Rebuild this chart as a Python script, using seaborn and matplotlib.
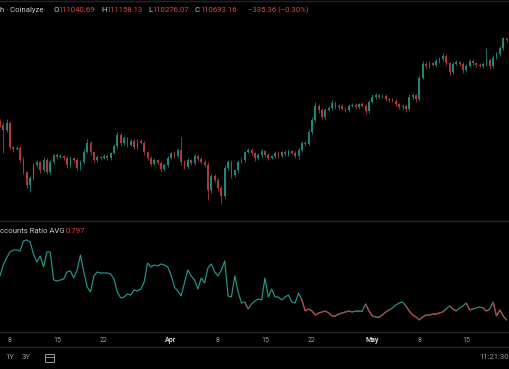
import matplotlib
matplotlib.use("Agg")
import matplotlib.pyplot as plt
import matplotlib.dates as mdates
from matplotlib.collections import LineCollection
from matplotlib.lines import Line2D
from matplotlib.patches import Rectangle
from matplotlib.transforms import blended_transform_factory
import numpy as np
import pandas as pd
import seaborn as sns

# ---- data (12h candles, price in thousand USD) ----
START = "2025-03-06 12:00"
OPEN0 = 92.5
close_k = [
    91.7, 90.6, 92.2, 86.8, 86.4, 86.6, 83.9, 81.2, 78.3, 79.9,
    82.8, 83.5, 81.7, 83.9, 81.2, 83.5, 85.0, 84.6, 84.8, 84.4,
    82.8, 84.4, 83.9, 82.1, 83.5, 85.7, 87.7, 85.7, 83.9, 84.6,
    84.4, 84.8, 84.4, 85.5, 87.0, 89.5, 87.7, 88.8, 87.3, 88.2,
    86.8, 88.2, 87.7, 85.7, 84.4, 83.0, 83.9, 83.3, 81.9, 82.8,
    84.4, 85.5, 84.8, 86.2, 83.5, 82.4, 83.9, 83.3, 84.8, 84.1,
    83.5, 82.8, 77.2, 80.4, 79.5, 77.7, 75.9, 82.1, 83.5, 80.6,
    81.7, 83.5, 83.9, 85.7, 86.2, 85.5, 84.4, 85.0, 85.9, 85.0,
    84.4, 84.8, 85.5, 84.8, 85.7, 85.3, 85.9, 85.5, 84.8, 86.2,
    87.7, 87.5, 90.2, 92.8, 96.0, 95.1, 93.5, 95.1, 95.5, 96.6,
    95.7, 96.0, 95.3, 95.1, 96.0, 96.2, 95.7, 96.4, 96.0, 94.8,
    96.9, 98.0, 98.4, 98.0, 98.2, 97.5, 97.3, 97.1, 96.4, 95.7,
    96.0, 95.3, 98.0, 98.4, 97.5, 102.2, 105.3, 104.9, 105.5, 105.1,
    106.0, 106.4, 107.1, 105.5, 103.5, 105.3, 105.8, 105.3, 104.0, 104.9,
    106.0, 105.5, 105.1, 104.9, 105.3, 106.2, 104.9, 106.7, 107.6, 108.9,
    111.04, 110.69,
]
wick_up = [
    0.5, 0.6, 0.9, 0.4, 0.3, 0.5, 0.4, 0.6, 0.3, 0.4,
    0.5, 0.4, 0.3, 0.6, 0.4, 0.5, 0.3, 0.4, 0.5, 0.3,
    0.4, 0.5, 0.3, 0.4, 0.5, 0.6, 0.8, 0.4, 0.3, 0.5,
    0.3, 0.4, 0.5, 0.3, 0.4, 0.6, 0.4, 0.5, 0.3, 0.4,
    0.5, 0.4, 0.3, 0.4, 0.3, 0.5, 0.4, 0.3, 0.4, 0.5,
    0.4, 0.3, 0.5, 0.4, 2.8, 0.4, 0.5, 0.3, 0.4, 0.3,
    0.4, 0.5, 0.6, 0.4, 0.5, 0.3, 0.4, 0.6, 0.5, 0.4,
    0.3, 0.5, 0.4, 0.3, 0.5, 0.4, 0.3, 0.4, 0.5, 0.3,
    0.4, 0.3, 0.5, 0.4, 0.3, 0.4, 0.5, 0.3, 0.4, 0.5,
    0.4, 0.5, 0.6, 0.7, 0.8, 0.5, 0.4, 0.5, 0.4, 0.6,
    0.4, 0.3, 0.5, 0.4, 0.3, 0.5, 0.4, 0.3, 0.4, 0.5,
    0.5, 0.6, 0.4, 0.3, 0.5, 0.4, 0.3, 0.4, 0.5, 0.3,
    0.4, 0.5, 0.6, 0.4, 0.3, 0.6, 0.7, 0.4, 0.5, 0.3,
    0.4, 0.5, 0.7, 0.4, 0.3, 0.5, 0.4, 0.3, 0.5, 0.4,
    0.5, 0.4, 0.3, 0.4, 0.5, 2.7, 0.4, 0.6, 0.5, 0.4,
    0.3, 0.12,
]
wick_dn = [
    0.4, 5.1, 0.5, 0.4, 0.6, 0.3, 0.5, 0.4, 0.6, 1.5,
    0.4, 0.5, 0.6, 0.4, 0.5, 0.3, 0.4, 0.5, 0.3, 0.4,
    0.6, 0.4, 0.5, 0.3, 0.4, 0.5, 0.3, 0.6, 0.4, 0.5,
    0.4, 0.3, 0.5, 0.4, 0.3, 0.5, 0.6, 0.4, 0.5, 0.3,
    0.4, 0.5, 0.3, 0.6, 0.4, 0.5, 0.3, 0.4, 0.6, 0.4,
    0.5, 0.3, 0.4, 0.5, 0.6, 0.4, 0.3, 0.5, 0.4, 0.3,
    0.5, 0.4, 2.2, 0.6, 0.5, 0.7, 1.6, 0.5, 0.4, 0.6,
    0.4, 0.5, 0.3, 0.4, 0.3, 0.5, 0.6, 0.4, 0.3, 0.5,
    0.4, 0.3, 0.5, 0.4, 0.3, 0.5, 0.4, 0.3, 0.5, 0.6,
    0.4, 0.5, 0.3, 0.4, 0.5, 0.6, 0.5, 0.4, 0.3, 0.4,
    0.5, 0.4, 0.3, 0.5, 0.4, 0.3, 0.4, 0.5, 0.3, 0.6,
    0.4, 0.3, 0.5, 0.4, 0.3, 0.4, 0.5, 0.3, 0.4, 0.5,
    0.3, 0.6, 0.4, 0.5, 0.6, 0.4, 0.3, 0.5, 0.4, 0.3,
    0.5, 0.4, 0.3, 0.5, 0.6, 0.4, 0.3, 0.5, 0.6, 0.4,
    0.3, 0.4, 0.5, 0.3, 0.4, 0.5, 0.6, 0.4, 0.3, 0.5,
    0.4, 0.41,
]
# long/short accounts ratio (same timestamps)
ratio = [
    1.392, 1.540, 1.635, 1.716, 1.743, 1.743, 1.729, 1.864, 1.878, 1.851,
    1.689, 1.581, 1.662, 1.513, 1.716, 1.716, 1.338, 1.324, 1.338, 1.351,
    1.446, 1.459, 1.365, 1.473, 1.675, 1.446, 1.243, 1.176, 1.392, 1.446,
    1.432, 1.432, 1.432, 1.419, 1.351, 1.176, 1.095, 1.108, 1.149, 1.135,
    1.203, 1.189, 1.216, 1.311, 1.567, 1.513, 1.540, 1.527, 1.554, 1.540,
    1.513, 1.405, 1.243, 1.189, 1.122, 1.297, 1.473, 1.392, 1.338, 1.216,
    1.365, 1.297, 1.500, 1.554, 1.446, 1.392, 1.473, 1.594, 1.122, 1.108,
    1.392, 1.176, 1.027, 1.041, 0.945, 1.014, 1.054, 1.081, 1.068, 1.365,
    1.108, 1.216, 1.108, 1.108, 1.068, 1.108, 1.135, 1.041, 1.027, 1.162,
    1.068, 0.919, 0.946, 0.919, 0.865, 0.892, 0.906, 0.919, 0.892, 0.852,
    0.852, 0.879, 0.892, 0.906, 0.919, 0.906, 0.919, 0.919, 0.919, 1.014,
    0.919, 0.852, 0.838, 0.838, 0.865, 0.906, 0.933, 0.960, 1.000, 1.027,
    1.041, 0.987, 0.919, 0.865, 0.838, 0.798, 0.838, 0.865, 0.865, 0.879,
    0.879, 0.892, 0.906, 0.946, 0.987, 0.946, 0.919, 0.960, 0.987, 1.027,
    0.933, 0.946, 0.960, 0.973, 0.960, 0.919, 0.946, 1.041, 0.852, 0.933,
    0.852, 0.797,
]
RATIO_SPLIT = 0.95

tick_dates = ["2025-03-08", "2025-03-15", "2025-03-22", "2025-04-01", "2025-04-08",
              "2025-04-15", "2025-04-22", "2025-05-01", "2025-05-08", "2025-05-15", "2025-05-22"]
tick_labels = ["8", "15", "22", "Apr", "8", "15", "22", "May", "8", "15", "22"]

header_parts = [("h · Coinalyze", 0, "#c9ccd4"),
                ("O", 54, "#c9ccd4"), ("111040.69", 58.5, "#e0453f"),
                ("H", 101, "#c9ccd4"), ("111158.13", 106, "#e0453f"),
                ("L", 148, "#c9ccd4"), ("110276.07", 152.5, "#e0453f"),
                ("C", 195, "#c9ccd4"), ("110693.16", 200, "#e0453f"),
                ("\u2212335.36 (\u22120.30%)", 248, "#e0453f")]

# ---- style ----
BG = "#000000"
LINE = "#262626"
TXT = "#9a9da6"
UP = "#1a887d"
DOWN = "#ad3b38"
TEAL = "#22988d"
RED = "#c63d3a"

sns.set_theme(style="dark", rc={"axes.facecolor": BG, "figure.facecolor": BG})
plt.rcParams["font.family"] = ["Roboto", "DejaVu Sans"]

W, H = 510, 369
fig = plt.figure(figsize=(W / 100, H / 100), dpi=100)


def fy(py):
    return 1 - py / H


ax_p = fig.add_axes([0, fy(221), 1, fy(0) - fy(221)])
ax_r = fig.add_axes([0, fy(331), 1, fy(222) - fy(331)])

times = pd.date_range(START, periods=len(close_k), freq="12h")
t = mdates.date2num(times.to_pydatetime())
px_per_day = 6.71
x_left = mdates.date2num(pd.Timestamp("2025-03-08").to_pydatetime()) - 10 / px_per_day
x_right = x_left + W / px_per_day

# candles
c = np.array(close_k)
o = np.array([OPEN0] + close_k[:-1])
hi = np.maximum(o, c) + np.array(wick_up)
lo = np.minimum(o, c) - np.array(wick_dn)
cols = [UP if cc >= oo else DOWN for oo, cc in zip(o, c)]
ax_p.vlines(t, lo, hi, colors=cols, lw=0.6)
ax_p.bar(t, np.maximum(np.abs(c - o), 0.12), bottom=np.minimum(o, c), width=0.26,
         color=cols, linewidth=0)
ax_p.set_xlim(x_left, x_right)
ax_p.set_ylim(119.6 - 0.223 * 221, 119.6)

# ratio line, red where below split
r = np.array(ratio)
sns.lineplot(x=t, y=r, ax=ax_r, color=TEAL, lw=0.85, estimator=None)
segs = [[(t[i], r[i]), (t[i + 1], r[i + 1])] for i in range(len(r) - 1) if r[i + 1] < RATIO_SPLIT]
ax_r.add_collection(LineCollection(segs, colors=RED, linewidths=0.85))
ax_r.set_xlim(x_left, x_right)
ax_r.set_ylim(1 + (305 - 331) * 0.0135, 1 + (305 - 222) * 0.0135)

for ax in (ax_p, ax_r):
    ax.set_axis_off()

# separators
for py in (1, 221, 332, 347):
    fig.add_artist(Line2D([0, 1], [fy(py), fy(py)], transform=fig.transFigure, color=LINE, lw=1))

# header texts
for s, px, col in header_parts:
    fig.text(px / W, fy(10), s, color=col, fontsize=5.6, ha="left", va="center")
fig.text(0, fy(231), "ccounts Ratio AVG", color="#c9ccd4", fontsize=5.6, ha="left", va="center")
fig.text(66 / W, fy(231), f"{ratio[-1]:.3f}", color="#e0453f", fontsize=5.6, ha="left", va="center")

# time axis labels
trans = blended_transform_factory(ax_r.transData, fig.transFigure)
for d, lab in zip(tick_dates, tick_labels):
    xd = mdates.date2num(pd.Timestamp(d).to_pydatetime())
    month = not lab.isdigit()
    ax_r.text(xd, fy(340), lab, transform=trans, ha="center", va="center", fontsize=5,
              color="#d1d4dc" if month else TXT, fontweight="bold" if month else "normal",
              clip_on=False)

# bottom toolbar
fig.text(5 / W, fy(357), "1Y", color=TXT, fontsize=5.6, va="center")
fig.text(22 / W, fy(357), "3Y", color=TXT, fontsize=5.6, va="center")
fig.add_artist(Rectangle((45 / W, fy(362)), 9 / W, 8 / H, fill=False, ec=TXT, lw=0.7,
                         transform=fig.transFigure))
fig.add_artist(Line2D([45 / W, 54 / W], [fy(356.5)] * 2, transform=fig.transFigure, color=TXT, lw=0.6))
fig.text(509 / W, fy(357), "11:21:30", color=TXT, fontsize=5.6, ha="right", va="center")

fig.savefig("out.png", dpi=100, facecolor=BG)
